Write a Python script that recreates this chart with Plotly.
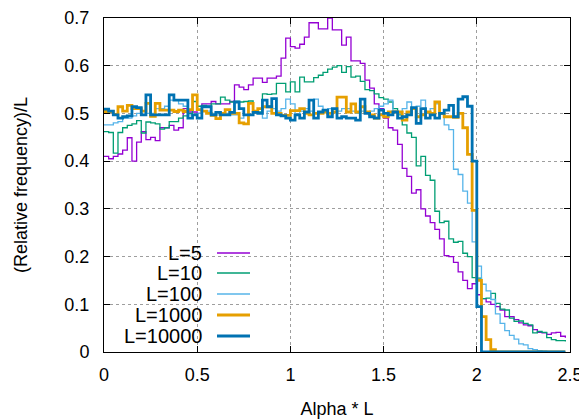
import plotly.graph_objs as go

# histogram bins (left edge of each bin), width 0.025 in Alpha * L
BIN_WIDTH = 0.025
alpha_l = [round(i * BIN_WIDTH, 3) for i in range(100)]

# (Relative frequency)/L read per bin
freq_l5 = [
    0.410, 0.405, 0.410, 0.415, 0.423, 0.449, 0.400, 0.440, 0.462, 0.445,
    0.450, 0.443, 0.470, 0.470, 0.475, 0.465, 0.470, 0.510, 0.503, 0.503,
    0.500, 0.520, 0.520, 0.525, 0.520, 0.520, 0.520, 0.525, 0.560, 0.555,
    0.550, 0.560, 0.574, 0.574, 0.565, 0.574, 0.574, 0.578, 0.616, 0.658,
    0.640, 0.637, 0.645, 0.660, 0.690, 0.690, 0.677, 0.677, 0.700, 0.675,
    0.675, 0.643, 0.660, 0.610, 0.610, 0.605, 0.570, 0.553, 0.520, 0.510,
    0.490, 0.470, 0.465, 0.435, 0.385, 0.368, 0.333, 0.340, 0.300, 0.285,
    0.271, 0.257, 0.237, 0.202, 0.200, 0.188, 0.168, 0.150, 0.133, 0.143,
    0.120, 0.112, 0.105, 0.100, 0.095, 0.088, 0.074, 0.074, 0.068, 0.061,
    0.057, 0.055, 0.047, 0.041, 0.040, 0.037, 0.040, 0.041, 0.033, 0.030,
]

freq_l10 = [
    0.462, 0.460, 0.417, 0.460, 0.470, 0.475, 0.478, 0.485, 0.459, 0.482,
    0.480, 0.478, 0.467, 0.470, 0.483, 0.483, 0.490, 0.495, 0.500, 0.525,
    0.515, 0.517, 0.515, 0.520, 0.520, 0.534, 0.528, 0.524, 0.525, 0.524,
    0.525, 0.526, 0.503, 0.503, 0.541, 0.540, 0.541, 0.563, 0.563, 0.545,
    0.566, 0.545, 0.576, 0.566, 0.566, 0.575, 0.580, 0.586, 0.593, 0.597,
    0.600, 0.586, 0.598, 0.576, 0.578, 0.567, 0.550, 0.548, 0.541, 0.533,
    0.530, 0.524, 0.510, 0.497, 0.476, 0.459, 0.450, 0.390, 0.410, 0.370,
    0.360, 0.295, 0.271, 0.274, 0.237, 0.230, 0.232, 0.207, 0.200, 0.156,
    0.155, 0.112, 0.113, 0.123, 0.102, 0.090, 0.088, 0.071, 0.064, 0.065,
    0.060, 0.057, 0.040, 0.043, 0.041, 0.030, 0.026, 0.024, 0.024, 0.022,
]

freq_l100 = [
    0.476, 0.476, 0.480, 0.483, 0.490, 0.490, 0.495, 0.500, 0.505, 0.500,
    0.500, 0.510, 0.510, 0.515, 0.528, 0.528, 0.520, 0.515, 0.497, 0.497,
    0.500, 0.505, 0.505, 0.500, 0.497, 0.497, 0.500, 0.497, 0.497, 0.490,
    0.497, 0.497, 0.505, 0.500, 0.490, 0.505, 0.510, 0.505, 0.510, 0.530,
    0.520, 0.497, 0.505, 0.510, 0.505, 0.530, 0.515, 0.505, 0.510, 0.510,
    0.505, 0.510, 0.510, 0.505, 0.500, 0.505, 0.500, 0.505, 0.510, 0.515,
    0.520, 0.528, 0.505, 0.500, 0.510, 0.524, 0.510, 0.515, 0.528, 0.500,
    0.510, 0.520, 0.500, 0.476, 0.466, 0.383, 0.372, 0.337, 0.312, 0.231,
    0.180, 0.142, 0.128, 0.110, 0.080, 0.060, 0.045, 0.035, 0.027, 0.017,
    0.015, 0.007, 0.005, 0.003, 0.002, 0.000, 0.000, 0.000, 0.000, 0.000,
]

freq_l1000 = [
    0.504, 0.504, 0.498, 0.514, 0.505, 0.517, 0.510, 0.510, 0.505, 0.521,
    0.494, 0.521, 0.507, 0.507, 0.507, 0.504, 0.507, 0.504, 0.508, 0.539,
    0.508, 0.505, 0.500, 0.496, 0.489, 0.500, 0.508, 0.500, 0.500, 0.480,
    0.478, 0.521, 0.505, 0.510, 0.514, 0.514, 0.500, 0.500, 0.496, 0.496,
    0.506, 0.506, 0.510, 0.500, 0.497, 0.500, 0.500, 0.503, 0.500, 0.503,
    0.534, 0.534, 0.503, 0.520, 0.503, 0.514, 0.503, 0.497, 0.490, 0.497,
    0.493, 0.503, 0.503, 0.503, 0.486, 0.503, 0.510, 0.493, 0.497, 0.503,
    0.500, 0.524, 0.500, 0.493, 0.493, 0.492, 0.500, 0.470, 0.414, 0.297,
    0.150, 0.074, 0.026, 0.005, 0.000, 0.000, 0.000, 0.000, 0.000, 0.000,
    0.000, 0.000, 0.000, 0.000, 0.000, 0.000, 0.000, 0.000, 0.000, 0.000,
]

freq_l10000 = [
    0.509, 0.505, 0.497, 0.490, 0.493, 0.495, 0.514, 0.512, 0.497, 0.539,
    0.497, 0.497, 0.497, 0.497, 0.539, 0.528, 0.528, 0.528, 0.490, 0.497,
    0.490, 0.514, 0.514, 0.497, 0.502, 0.497, 0.497, 0.502, 0.524, 0.510,
    0.497, 0.497, 0.502, 0.500, 0.528, 0.514, 0.531, 0.497, 0.495, 0.490,
    0.486, 0.497, 0.490, 0.503, 0.528, 0.490, 0.503, 0.507, 0.493, 0.510,
    0.490, 0.493, 0.490, 0.490, 0.486, 0.530, 0.500, 0.493, 0.490, 0.507,
    0.500, 0.497, 0.503, 0.490, 0.493, 0.497, 0.512, 0.479, 0.510, 0.490,
    0.497, 0.490, 0.500, 0.507, 0.517, 0.493, 0.530, 0.535, 0.515, 0.400,
    0.095, 0.000, 0.000, 0.000, 0.000, 0.000, 0.000, 0.000, 0.000, 0.000,
    0.000, 0.000, 0.000, 0.000, 0.000, 0.000, 0.000, 0.000, 0.000, 0.000,
]

labels = ['L=5', 'L=10', 'L=100', 'L=1000', 'L=10000']
series = [freq_l5, freq_l10, freq_l100, freq_l1000, freq_l10000]
colors = ['#9400d3', '#009e73', '#56b4e9', '#e69f00', '#0072b2']
widths = [1.3, 1.3, 1.3, 2.8, 2.8]

x_ticks = [0, 0.5, 1, 1.5, 2, 2.5]
x_ticktext = ['0', '0.5', '1', '1.5', '2', '2.5']
y_ticks = [0, 0.1, 0.2, 0.3, 0.4, 0.5, 0.6, 0.7]
y_ticktext = ['0', '0.1', '0.2', '0.3', '0.4', '0.5', '0.6', '0.7']

FONT = 'Liberation Sans, Arial, sans-serif'

fig = go.Figure()

for name, ys, color, w in zip(labels, series, colors, widths):
    fig.add_trace(
        go.Scatter(
            x=alpha_l,
            y=ys,
            name=name,
            mode='lines',
            line=dict(color=color, width=w, shape='hv'),
            showlegend=False
        )
    )

# gnuplot style key: text right aligned, sample line to its right
key_rows = [0.2964, 0.2365, 0.1737, 0.1108, 0.0479]
for name, color, w, yp in zip(labels, colors, widths, key_rows):
    fig.add_annotation(
        x=0.2146, y=yp, xref='paper', yref='paper',
        text=name, showarrow=False, xanchor='right', yanchor='middle',
        font=dict(family=FONT, size=20, color='black')
    )
    fig.add_shape(
        type='line', xref='paper', yref='paper',
        x0=0.2425, x1=0.3133, y0=yp, y1=yp,
        line=dict(color=color, width=w)
    )

axis_common = dict(
    automargin=False,
    showgrid=True,
    gridcolor='rgba(0,0,0,0.38)',
    griddash='dot',
    gridwidth=1,
    zeroline=False,
    showline=True,
    linecolor='black',
    linewidth=1,
    mirror='allticks',
    ticks='inside',
    ticklen=6,
    tickcolor='black',
    tickfont=dict(family=FONT, size=18, color='black'),
)

# the page body has an 8px margin, so the figure is 8px smaller and shifted
fig.update_layout(
    width=579,
    height=411,
    plot_bgcolor='white',
    paper_bgcolor='white',
    margin=dict(l=96, r=17, t=10, b=67),
    font=dict(family=FONT, size=18, color='black'),
    xaxis=dict(
        range=[0, 2.5],
        tickvals=x_ticks,
        ticktext=x_ticktext,
        ticklabelstandoff=6,
        title=dict(text='Alpha * L', standoff=18, font=dict(family=FONT, size=18)),
        **axis_common
    ),
    yaxis=dict(
        range=[0, 0.7],
        tickvals=y_ticks,
        ticktext=y_ticktext,
        ticklabelstandoff=10,
        title=dict(text='(Relative frequency)/L', standoff=32, font=dict(family=FONT, size=18)),
        **axis_common
    ),
)

fig.write_html("out.html")
